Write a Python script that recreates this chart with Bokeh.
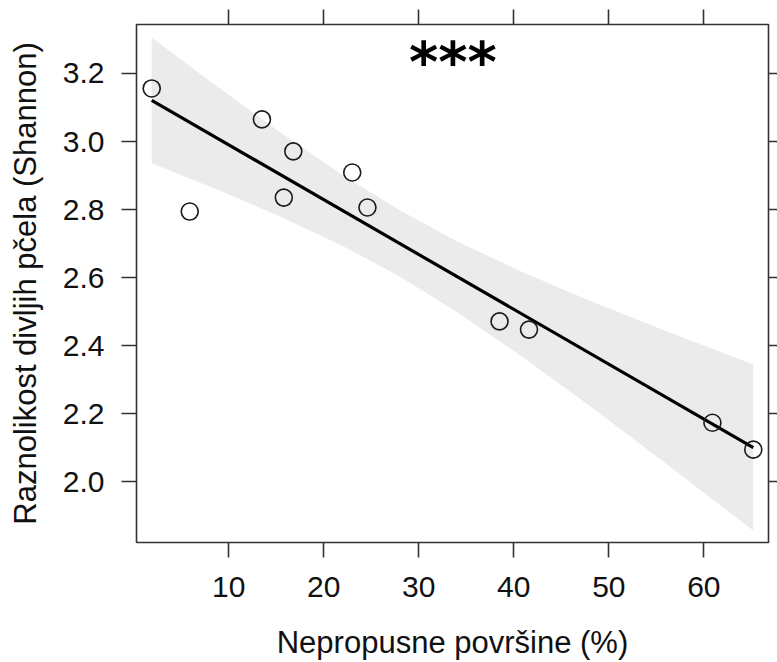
from bokeh.plotting import figure
from bokeh.models import LinearAxis, FixedTicker, PrintfTickFormatter, Range1d
from bokeh.core.properties import value
from bokeh.embed import file_html
from bokeh.resources import INLINE

# data
imperv = [1.9, 5.9, 13.5, 15.8, 16.8, 23.0, 24.6, 38.5, 41.6, 60.9, 65.2]
shannon = [3.156, 2.794, 3.065, 2.835, 2.971, 2.909, 2.806, 2.471, 2.447, 2.173, 2.094]

fit_x = [1.9, 65.2]
fit_y = [3.121, 2.100]

band_x = [1.9, 8, 15, 22, 28, 34, 41, 48, 56, 65.2]
band_upper = [3.306, 3.178, 3.035, 2.901, 2.798, 2.707, 2.615, 2.532, 2.443, 2.344]
band_lower = [2.936, 2.868, 2.785, 2.693, 2.603, 2.499, 2.365, 2.222, 2.053, 1.856]

x_ticks = [10, 20, 30, 40, 50, 60]
y_ticks = [2.0, 2.2, 2.4, 2.6, 2.8, 3.0, 3.2]

sig_label = "***"
sig_x = 33.6
sig_y = 3.235

x_title = "Nepropusne površine (%)"
y_title = "Raznolikost divljih pčela (Shannon)"

FONT = "Liberation Sans"
DARK = "#333333"
TXT = "#111111"

p = figure(
    output_backend="svg", toolbar_location=None,
    width=777, height=662,
    x_range=Range1d(0.3, 66.8), y_range=Range1d(1.821, 3.344),
    x_axis_location=None, y_axis_location=None,
    min_border_left=136, min_border_right=9, min_border_top=24, min_border_bottom=120,
)
p.grid.visible = False
p.outline_line_color = DARK
p.outline_line_width = 1.6
p.background_fill_color = "white"
p.border_fill_color = "white"


def style_axis(ax, labels=True, tick_out=15):
    ax.axis_line_color = None
    ax.major_tick_line_color = DARK
    ax.major_tick_line_width = 1.6
    ax.major_tick_out = tick_out
    ax.major_tick_in = 0
    ax.minor_tick_line_color = None
    if labels:
        ax.major_label_text_font = FONT
        ax.major_label_text_font_size = "30px"
        ax.major_label_text_color = TXT
        ax.axis_label_text_font = FONT
        ax.axis_label_text_font_size = "31px"
        ax.axis_label_text_font_style = "normal"
        ax.axis_label_text_color = TXT
    else:
        ax.major_label_text_color = None
        ax.major_label_text_font_size = "0px"
        ax.major_label_standoff = 0


bottom = LinearAxis(axis_label=x_title)
style_axis(bottom)
bottom.ticker = FixedTicker(ticks=x_ticks)
bottom.major_label_standoff = 19
bottom.axis_label_standoff = 25
p.add_layout(bottom, "below")

left = LinearAxis(axis_label=y_title)
style_axis(left)
left.ticker = FixedTicker(ticks=y_ticks)
left.formatter = PrintfTickFormatter(format="%.1f")
left.major_label_standoff = 17
left.axis_label_standoff = 17
p.add_layout(left, "left")

top = LinearAxis()
style_axis(top, labels=False, tick_out=15)
top.ticker = FixedTicker(ticks=x_ticks)
p.add_layout(top, "above")

right = LinearAxis()
style_axis(right, labels=False, tick_out=9)
right.ticker = FixedTicker(ticks=y_ticks)
p.add_layout(right, "right")

p.varea(x=band_x, y1=band_lower, y2=band_upper, fill_color="#ebebeb", fill_alpha=1.0)
p.line(fit_x, fit_y, line_color="black", line_width=3.2)
p.scatter(imperv, shannon, marker="circle", size=17, fill_color=None,
          line_color="#1a1a1a", line_width=1.6)

p.text(x=[sig_x], y=[sig_y], text=[sig_label], text_align="center", text_baseline="middle",
       text_font=value("DejaVu Sans"), text_font_style="bold", text_font_size="56px",
       text_color="black")

open("out.html", "w").write(file_html(p, INLINE))
